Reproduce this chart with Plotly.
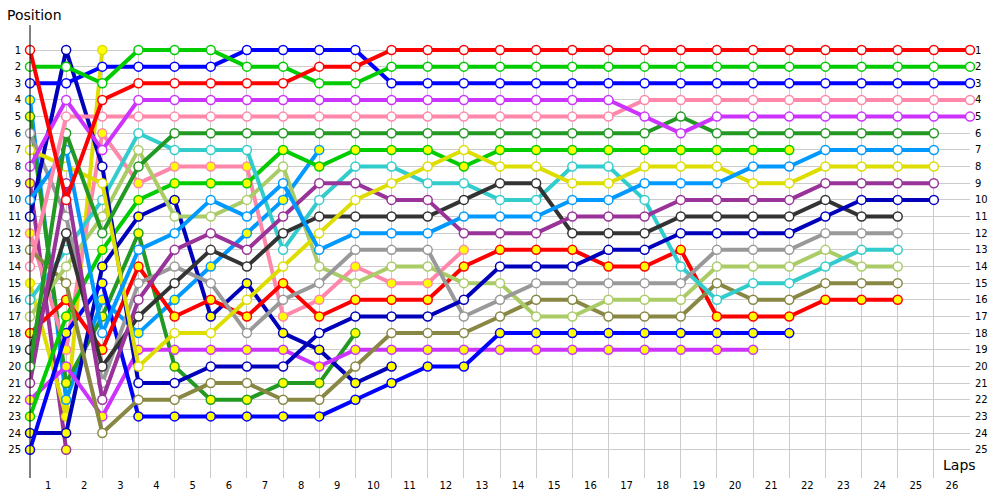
import plotly.graph_objects as go

laps = list(range(0, 27))
N = None

# positions per lap (lap 0 = start); None = retired
red_w      = [1, 10, 4, 3, 3, 3, 3, 3, 2, 2] + [1] * 17
green_w    = [2, 2, 3, 1, 1, 1, 2, 2, 3, 3] + [2] * 17
blue_w     = [3, 3, 2, 2, 2, 2, 1, 1, 1, 1] + [3] * 17
magenta_w  = [8, 4, 7] + [4] * 14 + [5, 6] + [5] * 8
pink_w     = [14, 5, 5] + [5] * 14 + [4] * 10
dgreen_w   = [20, 6, 12, 8] + [6] * 14 + [5] + [6] * 7 + [N]
sky_w      = [10, 7, 18, 13, 12, 10, 11, 9, 13, 12, 12, 12, 11, 11, 11, 10, 10, 9, 9, 9, 8, 8, 7, 7, 7, 7, N]
yellow_w   = [7, 8, 9, 20, 18, 18, 16, 14, 12, 10, 9, 8, 7, 8, 8, 9, 9, 8, 8, 8, 9, 9, 8, 8, 8, 8, N]
purple_w   = [21, 9, 22, 16, 13, 12, 13, 11, 9, 9, 10, 10, 12, 12, 12, 11, 11, 11, 10, 10, 10, 10, 9, 9, 9, 9, N]
dblue_w    = [11, 1, 8, 21, 21, 20, 20, 20, 18, 17, 17, 17, 16, 14, 14, 14, 13, 13, 12, 12, 12, 12, 11, 10, 10, 10, N]
black_w    = [19, 12, 20, 17, 15, 13, 14, 12, 11, 11, 11, 11, 10, 9, 9, 12, 12, 12, 11, 11, 11, 11, 10, 11, 11, N, N]
grey_w     = [6, 11, 21, 15, 14, 15, 18, 16, 15, 13, 13, 13, 17, 16, 15, 15, 15, 15, 15, 13, 13, 13, 12, 12, 12, N, N]
cyan_w     = [16, 13, 10, 6, 7, 7, 7, 13, 10, 8, 8, 9, 9, 10, 10, 8, 8, 10, 14, 16, 15, 15, 14, 13, 13, N, N]
lgreen_w   = [17, 14, 11, 7, 11, 11, 10, 8, 14, 15, 14, 14, 15, 15, 17, 17, 16, 16, 16, 14, 14, 14, 13, 14, 14, N, N]
olive_w    = [13, 15, 24, 22, 22, 21, 21, 22, 22, 20, 18, 18, 18, 17, 16, 16, 17, 17, 17, 15, 16, 16, 15, 15, 15, N, N]
red_y      = [18, 16, 19, 14, 17, 16, 17, 15, 17, 16, 16, 16, 14, 13, 13, 13, 14, 14, 13, 17, 17, 17, 16, 16, 16, N, N]
green_y    = [23, 17, 13, 10, 9, 9, 9, 7, 8, 7, 7, 7, 8, 7, 7, 7, 7, 7, 7, 7, 7, 7] + [N] * 5
blue_y     = [25, 18, 15, 23, 23, 23, 23, 23, 23, 22, 21, 20, 20, 18, 18, 18, 18, 18, 18, 18, 18, 18] + [N] * 5
magenta_y  = [22, 20, 23, 19, 19, 19, 19, 19, 20, 19, 19, 19, 19, 19, 19, 19, 19, 19, 19, 19, 19] + [N] * 6
pink_y     = [12, 19, 6, 9, 8, 8, 8, 17, 16, 14, 15, 15, 13] + [N] * 14
dblue_y    = [24, 24, 14, 11, 10, 17, 15, 18, 19, 21, 20] + [N] * 16
dgreen_y   = [5, 21, 17, 12, 20, 22, 22, 21, 21, 18] + [N] * 17
sky_y      = [4, 22, 16, 18, 16, 14, 12, 10, 7] + [N] * 18
yellow_y   = [15, 23, 1] + [N] * 24
purple_y   = [9, 25] + [N] * 25

drivers = [
    (purple_y, "#993399", "#FFFF00"),
    (yellow_y, "#DDDD00", "#FFFF00"),
    (sky_y, "#0099FF", "#FFFF00"),
    (dgreen_y, "#229922", "#FFFF00"),
    (dblue_y, "#0000BB", "#FFFF00"),
    (pink_y, "#FF88AA", "#FFFF00"),
    (magenta_y, "#CC33FF", "#FFFF00"),
    (blue_y, "#0000FF", "#FFFF00"),
    (green_y, "#00CC00", "#FFFF00"),
    (red_y, "#FF0000", "#FFFF00"),
    (olive_w, "#888844", "#FFFFFF"),
    (lgreen_w, "#AACC66", "#FFFFFF"),
    (cyan_w, "#33CCCC", "#FFFFFF"),
    (grey_w, "#999999", "#FFFFFF"),
    (black_w, "#333333", "#FFFFFF"),
    (dblue_w, "#0000BB", "#FFFFFF"),
    (purple_w, "#993399", "#FFFFFF"),
    (yellow_w, "#DDDD00", "#FFFFFF"),
    (sky_w, "#0099FF", "#FFFFFF"),
    (dgreen_w, "#229922", "#FFFFFF"),
    (pink_w, "#FF88AA", "#FFFFFF"),
    (magenta_w, "#CC33FF", "#FFFFFF"),
    (blue_w, "#0000FF", "#FFFFFF"),
    (green_w, "#00CC00", "#FFFFFF"),
    (red_w, "#FF0000", "#FFFFFF"),
]

positions = list(range(1, 26))
lap_labels = [str(i) for i in range(1, 27)]

fig = go.Figure()
for ys, col, fill in drivers:
    fig.add_trace(go.Scatter(
        x=laps, y=ys, mode="lines+markers", connectgaps=False,
        line=dict(color=col, width=4),
        marker=dict(size=9, color=fill, line=dict(color=col, width=1.5)),
        cliponaxis=False, showlegend=False, hoverinfo="skip",
    ))

# invisible trace for right axis
fig.add_trace(go.Scatter(x=[0], y=[1], yaxis="y2", mode="markers",
                         marker=dict(opacity=0), showlegend=False, hoverinfo="skip"))

tickfont = dict(family="DejaVu Sans", size=10, color="#000000")

fig.update_layout(
    width=1000, height=500,
    margin=dict(l=30, r=30, t=45, b=22, autoexpand=False),
    paper_bgcolor="white", plot_bgcolor="white",
    xaxis=dict(
        range=[0, 26], tickvals=[i - 0.5 for i in range(1, 27)], ticktext=lap_labels,
        showgrid=False, zeroline=False, showline=False, ticks="", automargin=False,
        tickfont=tickfont,
        minor=dict(tickvals=laps, showgrid=True, gridcolor="#CCCCCC", gridwidth=1, ticks=""),
    ),
    yaxis=dict(
        range=[26.7, 0.7], tickvals=positions, ticktext=[str(p) for p in positions],
        showgrid=True, gridcolor="#CCCCCC", gridwidth=1, zeroline=False, automargin=False,
        showline=False, ticks="", tickfont=tickfont, ticklabelstandoff=8,
    ),
    yaxis2=dict(
        range=[26.7, 0.7], tickvals=positions, ticktext=[str(p) for p in positions],
        overlaying="y", side="right", showgrid=False, zeroline=False, automargin=False,
        showline=False, ticks="", tickfont=tickfont, ticklabelstandoff=4,
    ),
    shapes=[
        dict(type="line", xref="paper", yref="paper", x0=0, x1=0, y0=0, y1=1.046,
             line=dict(color="black", width=1)),
    ],
    annotations=[
        dict(text="Position", xref="paper", yref="paper", x=-25 / 940, y=1.069,
             xanchor="left", yanchor="middle", showarrow=False,
             font=dict(family="DejaVu Sans", size=14, color="#000000")),
        dict(text="Laps", xref="paper", yref="paper", x=0.989, y=0.030,
             xanchor="center", yanchor="middle", showarrow=False,
             font=dict(family="DejaVu Sans", size=14, color="#000000")),
    ],
)

fig.write_html("out.html", config={"displayModeBar": False},
               post_script="document.body.style.margin='0';document.body.style.padding='0';")
